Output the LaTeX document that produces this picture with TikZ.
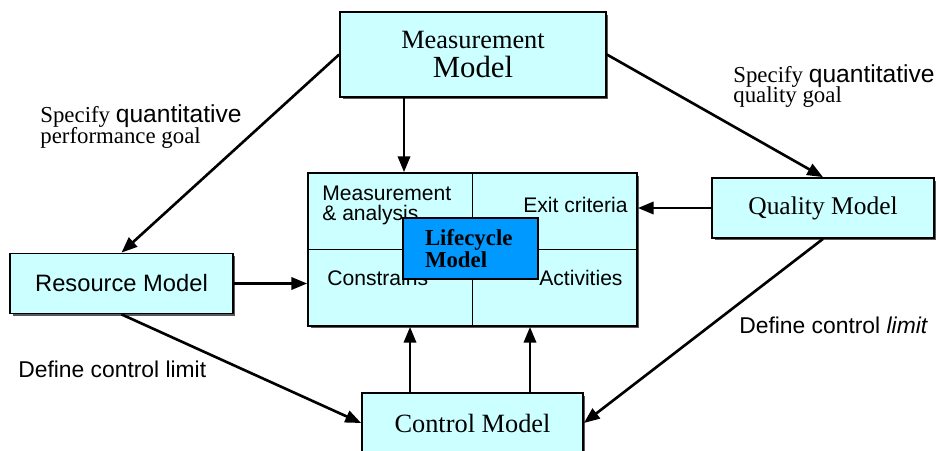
\documentclass[tikz,border=0pt]{standalone}
\usepackage{fontspec}
\setmainfont{Liberation Serif}
\setsansfont{Liberation Sans}
\usetikzlibrary{arrows.meta,shadows}

\definecolor{boxcyan}{RGB}{204,255,255}
\definecolor{lifeblue}{RGB}{0,153,255}

\begin{document}
\begin{tikzpicture}[x=0.02cm,y=-0.02cm,
  box/.style={draw,line width=1pt,fill=boxcyan,inner sep=0pt,align=center,
    drop shadow={shadow xshift=0.05cm,shadow yshift=-0.05cm,fill=black!65,opacity=1}},
  arr/.style={-{Triangle[length=9pt,width=7pt]},line width=1.5pt},
  celltxt/.style={inner sep=0pt,align=left,font=\sffamily\fontsize{12}{11.3}\selectfont},
  lbl/.style={inner sep=0pt,align=left,font=\fontsize{13}{10}\selectfont}]

\useasboundingbox (0,0) rectangle (936,450);

% Modelle
\node[box,minimum width=5.32cm,minimum height=1.7cm,font=\fontsize{17.5}{17}\selectfont] (measure) at (473,54.5) {{\fontsize{15}{17}\selectfont Measurement}\\Model};
\node[box,minimum width=4.46cm,minimum height=1.2cm,font=\sffamily\fontsize{13.5}{16}\selectfont] (resource) at (121.5,283.5) {Resource Model};
\node[box,minimum width=4.44cm,minimum height=1.2cm,font=\fontsize{14.5}{17}\selectfont] (quality) at (823,208) {Quality Model};
\node[box,minimum width=4.42cm,minimum height=1.2cm,font=\fontsize{15}{17}\selectfont] (control) at (472.5,423) {Control Model};

% Lifecycle
\node[box,minimum width=6.58cm,minimum height=3.06cm] (grid) at (472.5,249.5) {};
\draw[line width=1pt] (grid.north) -- (grid.south);
\draw[line width=1pt] (grid.west) -- (grid.east);
\node[celltxt,anchor=north west] (mana) at (322,186) {Measurement\\\& analysis};
\node[celltxt,anchor=base west] (exit) at (523,212) {Exit criteria};
\node[celltxt,anchor=base west] (constr) at (327,285) {Constrains};
\node[celltxt,anchor=base west] (activ) at (539,285) {Activities};
\node[draw,line width=1.2pt,fill=lifeblue,minimum height=1.22cm,text width=1.82cm,inner xsep=0.44cm,align=left,font=\bfseries\fontsize{13}{10.8}\selectfont] (life) at (470.5,248.5) {Lifecycle\\Model};

% Pfeile
\draw[arr] (measure.west) -- (resource.north);
\draw[arr] (measure.east) -- (quality.north);
\draw[arr] ([xshift=-1.38cm]measure.south) -- ([xshift=-1.38cm]measure.south |- grid.north);
\draw[arr] (quality.west) -- (quality.west -| grid.east);
\draw[arr] (resource.east) -- (resource.east -| grid.west);
\draw[arr] (resource.south) -- (control.west);
\draw[arr] (quality.south) -- (control.east);
\draw[arr] ([xshift=-1.25cm]control.north) -- ([xshift=-1.25cm]control.north |- grid.south);
\draw[arr] ([xshift=1.15cm]control.north) -- ([xshift=1.15cm]control.north |- grid.south);

% Beschriftungen
\node[lbl,anchor=north west] (perf) at (40,104) {Specify {\sffamily\fontsize{14}{10}\selectfont quantitative}\\[-1.2pt]performance goal};
\node[lbl,anchor=north west] (qual) at (733,64) {Specify {\sffamily\fontsize{14}{10}\selectfont quantitative}\\[-1.2pt]quality goal};
\node[lbl,anchor=base west,font=\sffamily\fontsize{13}{10}\selectfont] (limleft) at (18,377) {Define control limit};
\node[lbl,anchor=base west,font=\sffamily\fontsize{13}{10}\selectfont] (limright) at (739,333) {Define control \textit{limit}};

\end{tikzpicture}
\end{document}
